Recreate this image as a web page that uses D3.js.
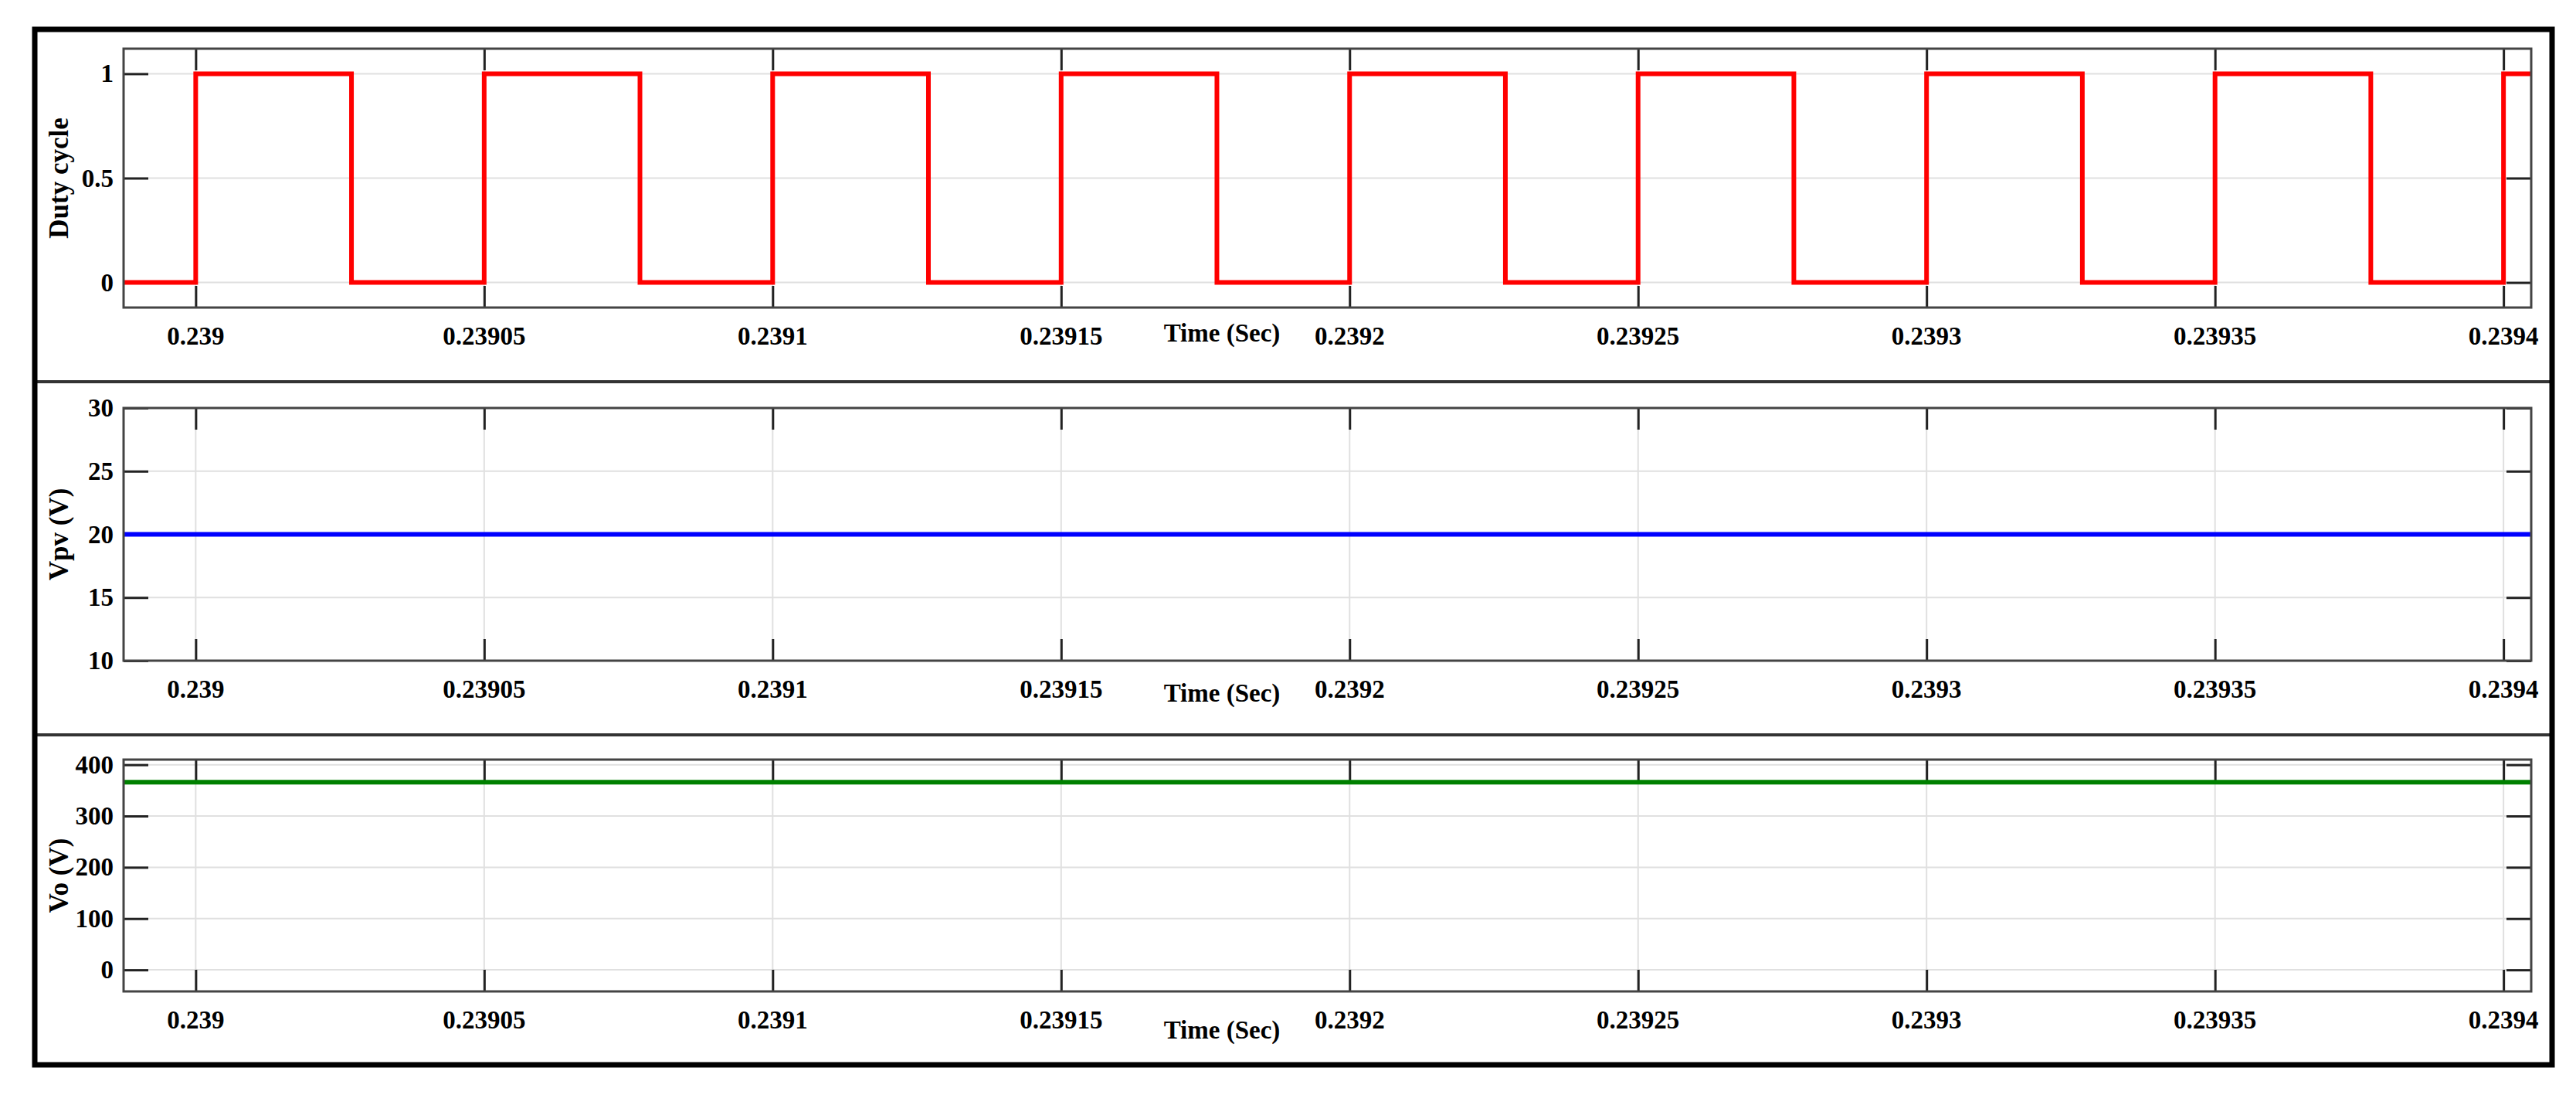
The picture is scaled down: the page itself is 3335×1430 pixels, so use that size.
<!DOCTYPE html>
<html><head><meta charset="utf-8">
<script src="https://cdn.jsdelivr.net/npm/d3@7"></script>
<style>body{margin:0;background:#fff}text{font-family:"Liberation Serif","Times New Roman",serif;font-weight:bold}</style>
</head><body>
<script>
const xTicks = [0.239, 0.23905, 0.2391, 0.23915, 0.2392, 0.23925, 0.2393, 0.23935, 0.2394];
const xTickLabels = ['0.239', '0.23905', '0.2391', '0.23915', '0.2392', '0.23925', '0.2393', '0.23935', '0.2394'];
// duty cycle switching instants [time, level]
const dutyPoints = [
  [0.2389875, 0], [0.239, 1], [0.239027, 0], [0.23905, 1], [0.239077, 0], [0.2391, 1], [0.239127, 0],
  [0.23915, 1], [0.239177, 0], [0.2392, 1], [0.239227, 0], [0.23925, 1], [0.239277, 0], [0.2393, 1],
  [0.239327, 0], [0.23935, 1], [0.239377, 0], [0.2394, 1], [0.2394048, 1]
];
const vpvPoints = [[0.2389875, 20], [0.2394048, 20]];
const voPoints = [[0.2389875, 366], [0.2394048, 366]];
const dutyTicks = [0, 0.5, 1];
const vpvTicks = [10, 15, 20, 25, 30];
const voTicks = [0, 100, 200, 300, 400];

const W = 3335, H = 1430;
const svg = d3.select('body').append('svg').attr('width', W).attr('height', H);
const x = d3.scaleLinear().domain([0.2389875, 0.2394048]).range([160, 3277]);

const panels = [
  {top: 63, bottom: 398, dom: [-0.12, 1.12], ticks: dutyTicks, data: dutyPoints, color: '#ff0000', label: 'Duty cycle', step: true, tlab: 442},
  {top: 528, bottom: 855, dom: [10, 30], ticks: vpvTicks, data: vpvPoints, color: '#0000ff', label: 'Vpv (V)', tlab: 908},
  {top: 983, bottom: 1283, dom: [-42, 410], ticks: voTicks, data: voPoints, color: '#008000', label: 'Vo (V)', tlab: 1344}
];

panels.forEach(p => {
  const y = d3.scaleLinear().domain(p.dom).range([p.bottom, p.top]);
  const g = svg.append('g');
  g.selectAll('.gx').data(xTicks).enter().append('line')
    .attr('x1', d => x(d)).attr('x2', d => x(d)).attr('y1', p.top).attr('y2', p.bottom)
    .attr('stroke', '#e0e0e0').attr('stroke-width', 2);
  g.selectAll('.gy').data(p.ticks).enter().append('line')
    .attr('x1', 160).attr('x2', 3277).attr('y1', d => y(d)).attr('y2', d => y(d))
    .attr('stroke', '#e0e0e0').attr('stroke-width', 2);
  g.append('g').attr('transform', `translate(0,${p.bottom})`)
    .call(d3.axisTop(x).tickValues(xTicks).tickSize(28).tickFormat(''));
  g.append('g').attr('transform', `translate(0,${p.top})`)
    .call(d3.axisBottom(x).tickValues(xTicks).tickSize(28).tickFormat(''));
  g.append('g').attr('transform', 'translate(160,0)')
    .call(d3.axisRight(y).tickValues(p.ticks).tickSize(32).tickFormat(''));
  g.append('g').attr('transform', 'translate(3277,0)')
    .call(d3.axisLeft(y).tickValues(p.ticks).tickSize(32).tickFormat(''));
  g.selectAll('.domain').remove();
  g.selectAll('.tick line').attr('stroke', '#222').attr('stroke-width', 3);
  g.selectAll('.xl').data(xTicks).enter().append('text')
    .attr('x', d => x(d)).attr('y', p.bottom + 48).attr('text-anchor', 'middle')
    .attr('font-size', 33).text((d, i) => xTickLabels[i]);
  g.selectAll('.yl').data(p.ticks).enter().append('text')
    .attr('x', 147).attr('y', d => y(d) + 11).attr('text-anchor', 'end')
    .attr('font-size', 33).text(d => d);
  const line = d3.line().x(d => x(d[0])).y(d => y(d[1]));
  if (p.step) line.curve(d3.curveStepAfter);
  g.append('path').datum(p.data).attr('d', line).attr('fill', 'none')
    .attr('stroke', p.color).attr('stroke-width', 6);
  g.append('rect').attr('x', 160).attr('y', p.top).attr('width', 3117).attr('height', p.bottom - p.top)
    .attr('fill', 'none').attr('stroke', '#444').attr('stroke-width', 3);
  g.append('text').attr('x', 1582).attr('y', p.tlab).attr('text-anchor', 'middle')
    .attr('font-size', 33).text('Time (Sec)');
  g.append('text').attr('transform', `translate(88,${(p.top + p.bottom) / 2}) rotate(-90)`)
    .attr('text-anchor', 'middle').attr('font-size', 35).text(p.label);
});

[494, 951].forEach(yy => svg.append('line').attr('x1', 45).attr('x2', 3304).attr('y1', yy).attr('y2', yy)
  .attr('stroke', '#333').attr('stroke-width', 4));
svg.append('rect').attr('x', 45).attr('y', 38).attr('width', 3259).attr('height', 1340)
  .attr('fill', 'none').attr('stroke', '#000').attr('stroke-width', 7);
</script>
</body></html>
